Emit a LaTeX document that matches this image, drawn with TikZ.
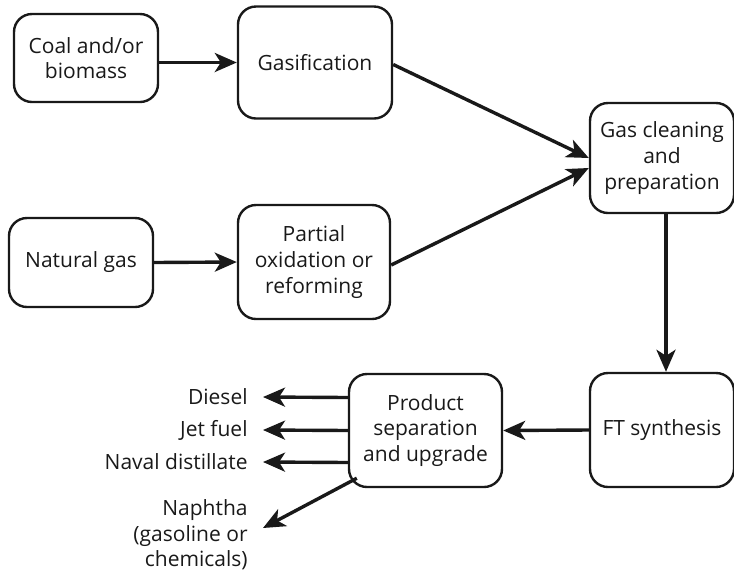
\documentclass[tikz,border=0pt]{standalone}
\usepackage{fontspec}
\setmainfont{Open Sans}
\usepackage{tikz}
\usetikzlibrary{arrows.meta}

\tikzset{
    proc/.style={draw, line width=1.2pt, rounded corners=9pt, align=center,
        minimum width=72pt, minimum height=56pt},
    flow/.style={line width=1.7pt, -{Stealth[length=11pt,width=9.5pt,inset=3pt]}},
    prodlabel/.style={anchor=east, align=right, inner xsep=7.5pt, inner ysep=0pt}
}

\begin{document}
\begin{tikzpicture}[x=0.5pt,y=-0.5pt,font=\fontsize{10.5}{12.8}\selectfont, color={black!90}]
        \useasboundingbox (0,0) rectangle (734,569);

        % feed stocks and gas production
        \node[proc, minimum width=72pt, minimum height=44pt] (coal) at (86,58) {Coal and/or\\biomass};
        \node[proc, minimum width=77pt] (gasif) at (315,62.5) {Gasification};
        \node[proc, minimum width=72pt, minimum height=44.5pt] (natgas) at (81,262.5) {Natural gas};
        \node[proc, minimum width=76pt, minimum height=57pt] (partial) at (314,262) {Partial\\oxidation or\\reforming};

        % main line
        \node[proc, minimum height=55pt] (clean) at (662,158) {Gas cleaning\\and\\preparation};
        \node[proc, minimum height=57pt] (ft) at (662,430) {FT synthesis};
        \node[proc, minimum width=76.5pt, minimum height=56.5pt] (prod) at (425.5,430.5) {Product\\separation\\and upgrade};

        % products
        \node[prodlabel] (diesel) at (263,397) {Diesel};
        \node[prodlabel] (jet) at (263,430) {Jet fuel};
        \node[prodlabel] (naval) at (263,462) {Naval distillate};
        \node[prodlabel] (naphtha) at (263,535) {Naphtha\\(gasoline or\\chemicals)};

        \draw[flow] (coal.east |- gasif.west) -- (gasif.west);
        \draw[flow] (natgas.east) -- (partial.west);
        \draw[flow] ([yshift=-1pt]gasif.east) -- (clean.west);
        \draw[flow] ([yshift=-1.5pt]partial.east) -- ([yshift=-5pt]clean.west);
        \draw[flow] ([xshift=2pt]clean.south) -- ([xshift=2pt]ft.north);
        \draw[flow] (ft.west) -- (prod.east);

        \foreach \dy/\out in {16.5/diesel, 0/jet, -16/naval} {
            \draw[flow] ([yshift=\dy pt]prod.west) -- (\out.east);
        }
        \draw[flow] ([xshift=4.5pt,yshift=5pt]prod.south west) -- ([yshift=3.5pt]naphtha.east);
    \end{tikzpicture}
\end{document}
